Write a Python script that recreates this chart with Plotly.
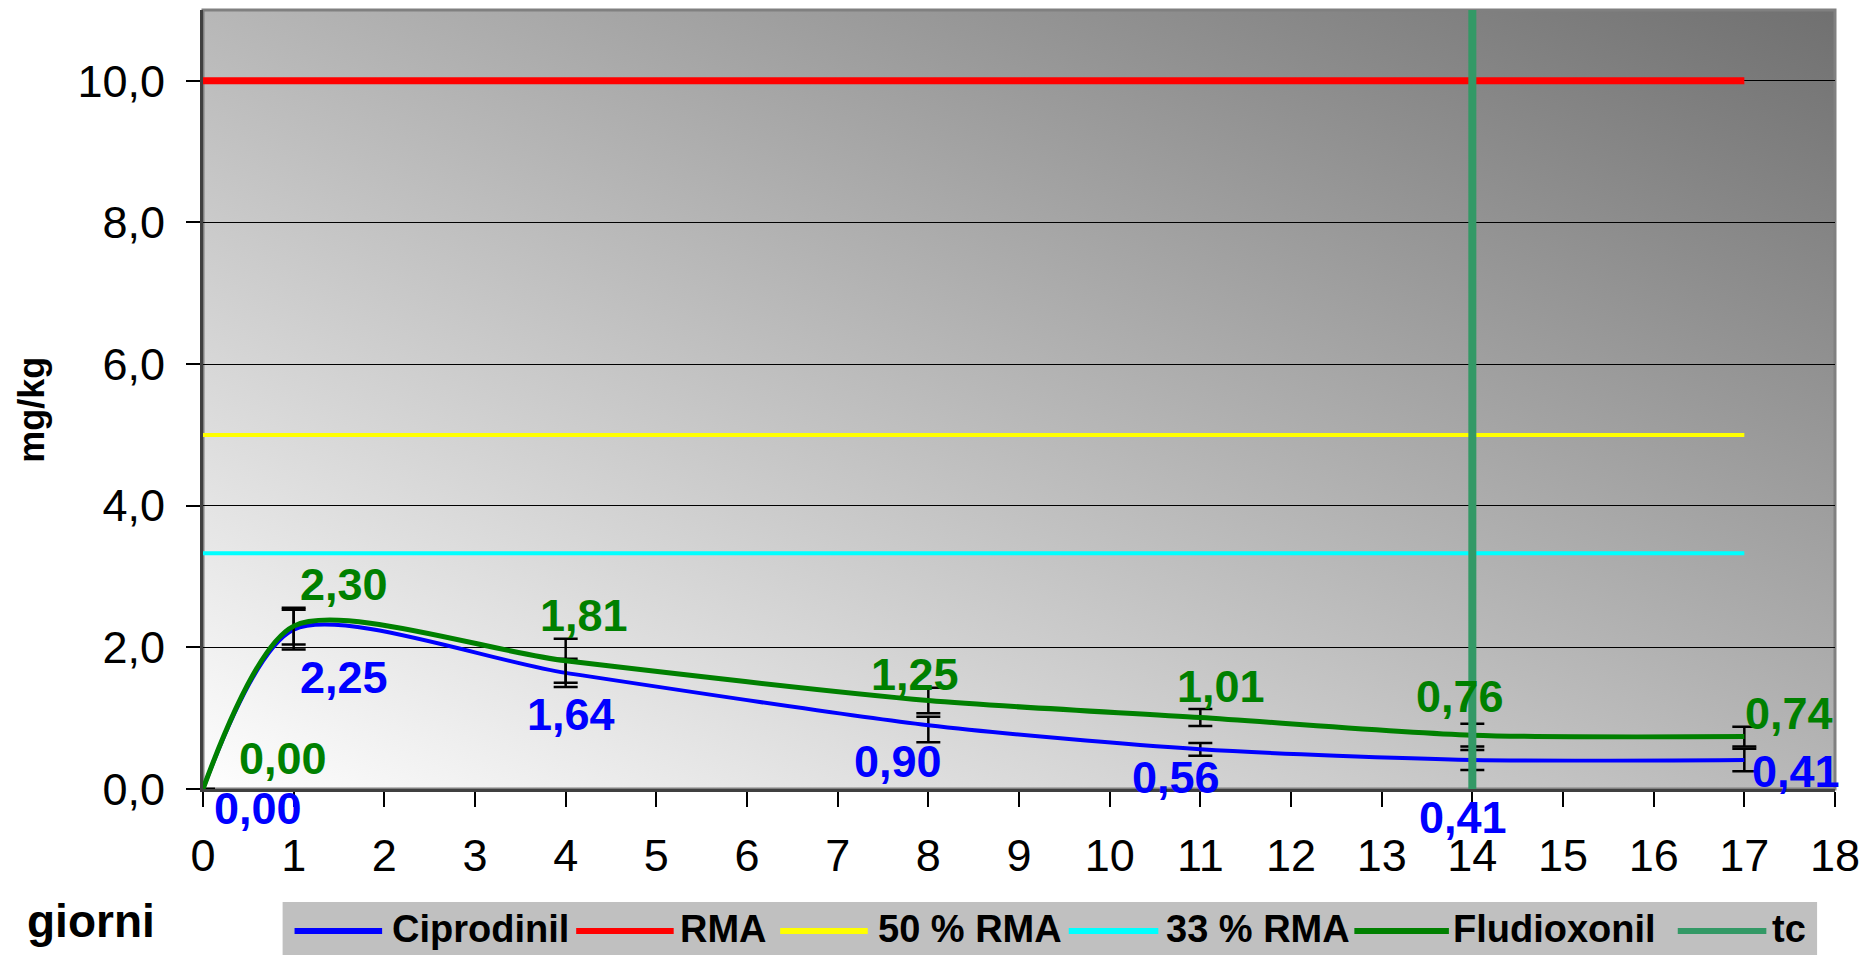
import base64
import plotly.graph_objects as go

# ── Data ─────────────────────────────────────────────────────
giorni = [0, 1, 4, 8, 11, 14, 17]
ciprodinil = [0.00, 2.25, 1.64, 0.90, 0.56, 0.41, 0.41]
fludioxonil = [0.00, 2.30, 1.81, 1.25, 1.01, 0.76, 0.74]
cip_err_plus = [0, 0.28, 0.20, 0.12, 0.09, 0.14, 0.16]
cip_err_minus = [0, 0.28, 0.20, 0.24, 0.09, 0.14, 0.16]
flu_err_plus = [0, 0.26, 0.31, 0.18, 0.12, 0.16, 0.14]
flu_err_minus = [0, 0.26, 0.31, 0.18, 0.12, 0.16, 0.14]

rma_x = [0, 17]
rma = 10.0
rma_50 = 5.0
rma_33 = 3.33
tc_day = 14
tc_y = [0, 11]

series_names = ["Ciprodinil", "RMA", "50 % RMA", "33 % RMA", "Fludioxonil", "tc"]
series_colors = ["#0000FF", "#FF0000", "#FFFF00", "#00FFFF", "#008000", "#339966"]

# ── Geometry (pixels) ────────────────────────────────────────
W, H = 1870, 955
L, R, T, B = 203, 1843, 10, 789
FONT = "Arial, Liberation Sans, sans-serif"


def px(x):
    return (x - L) / (R - L)


def py(y):
    return (B - y) / (B - T)


def label(v):
    return f"{v:.2f}".replace(".", ",")


# ── Gradient background (bottom-left light → top-right dark) ─
svg = ('<svg xmlns="http://www.w3.org/2000/svg" width="100" height="100" '
       'viewBox="0 0 100 100" preserveAspectRatio="none"><defs>'
       '<linearGradient id="g" x1="0" y1="1" x2="1" y2="0">'
       '<stop offset="0" stop-color="#fefefe"/>'
       '<stop offset="1" stop-color="#707070"/></linearGradient></defs>'
       '<rect width="100" height="100" fill="url(#g)"/></svg>')
bg_src = "data:image/svg+xml;base64," + base64.b64encode(svg.encode()).decode()

fig = go.Figure()

fig.add_trace(go.Scatter(
    x=giorni, y=ciprodinil, mode="lines", name="Ciprodinil",
    line=dict(color=series_colors[0], width=4, shape="spline", smoothing=0.75),
    error_y=dict(type="data", symmetric=False, array=cip_err_plus,
                 arrayminus=cip_err_minus, color="black", thickness=2.5, width=12),
))
for val, col, w in [(rma, series_colors[1], 7), (rma_50, series_colors[2], 4),
                    (rma_33, series_colors[3], 4)]:
    fig.add_trace(go.Scatter(x=rma_x, y=[val, val], mode="lines",
                             line=dict(color=col, width=w)))
fig.add_trace(go.Scatter(
    x=giorni, y=fludioxonil, mode="lines", name="Fludioxonil",
    line=dict(color=series_colors[4], width=5, shape="spline", smoothing=0.75),
    error_y=dict(type="data", symmetric=False, array=flu_err_plus,
                 arrayminus=flu_err_minus, color="black", thickness=2.5, width=12),
))
fig.add_trace(go.Scatter(x=[tc_day, tc_day], y=tc_y, mode="lines",
                         line=dict(color=series_colors[5], width=8)))

# ── Data labels ──────────────────────────────────────────────
flu_shift = [(80, 31), (50, 42), (18, 45), (-13, 26), (21, 31), (-12, 39), (45, 23)]
cip_shift = [(55, -19), (50, -48), (5, -42), (-30, -36), (-24, -28), (-9, -58), (52, -12)]
annotations = []
for x, v, (dx, dy) in zip(giorni, fludioxonil, flu_shift):
    annotations.append(dict(x=x, y=v, text=label(v), showarrow=False,
                            xshift=dx, yshift=dy, xanchor="center", yanchor="middle",
                            font=dict(family=FONT, size=45, color="#008000", weight="bold")))
for x, v, (dx, dy) in zip(giorni, ciprodinil, cip_shift):
    annotations.append(dict(x=x, y=v, text=label(v), showarrow=False,
                            xshift=dx, yshift=dy, xanchor="center", yanchor="middle",
                            font=dict(family=FONT, size=45, color="#0000FF", weight="bold")))

annotations.append(dict(xref="paper", yref="paper", x=px(30), y=py(410),
                        xanchor="center", yanchor="middle",
                        text="<b>mg/kg</b>", textangle=-90, showarrow=False,
                        font=dict(family=FONT, size=36, color="black")))
annotations.append(dict(xref="paper", yref="paper", x=px(90), y=py(921),
                        xanchor="center", yanchor="middle",
                        text="<b>giorni</b>", showarrow=False,
                        font=dict(family=FONT, size=46, color="black")))

# ── Manual legend ────────────────────────────────────────────
shapes = [
    dict(type="rect", xref="paper", yref="paper", x0=0, x1=1, y0=0, y1=1,
         line=dict(color="#808080", width=3), layer="below"),
    dict(type="rect", xref="paper", yref="paper", x0=px(283), x1=px(1825),
         y0=py(955), y1=py(902), fillcolor="#C0C0C0", line=dict(width=0)),
]
leg_line = [(295, 383), (578, 676), (783, 871), (1073, 1163), (1360, 1455), (1685, 1774)]
leg_text = [391, 680, 879, 1169, 1457, 1778]
ly = 931
for name, col, (a, b), tx in zip(series_names, series_colors, leg_line, leg_text):
    shapes.append(dict(type="line", xref="paper", yref="paper", x0=px(a), x1=px(b),
                       y0=py(ly), y1=py(ly), line=dict(color=col, width=6)))
    annotations.append(dict(xref="paper", yref="paper", x=px(tx), y=py(ly - 2),
                            xanchor="left", yanchor="middle", text=f"<b>{name}</b>",
                            showarrow=False, font=dict(family=FONT, size=38, color="black")))

fig.update_layout(
    width=W, height=H,
    margin=dict(l=L, r=W - R, t=T, b=H - B),
    paper_bgcolor="white",
    plot_bgcolor="rgba(0,0,0,0)",
    separators=", ",
    showlegend=False,
    font=dict(family=FONT, size=45, color="black"),
    images=[dict(source=bg_src, xref="paper", yref="paper", x=0, y=1,
                 sizex=1, sizey=1, sizing="stretch", layer="below",
                 xanchor="left", yanchor="top")],
    xaxis=dict(range=[0, 18], dtick=1, tick0=0, showgrid=False, zeroline=False,
               showline=True, linecolor="#404040", linewidth=3,
               ticks="outside", ticklen=15, tickwidth=1.5, tickcolor="black",
               ticklabelstandoff=10, tickfont=dict(size=45)),
    yaxis=dict(range=[0, 11], dtick=2, tick0=0, tickformat=".1f",
               showgrid=True, gridcolor="black", gridwidth=1, zeroline=False,
               showline=True, linecolor="#404040", linewidth=3,
               ticks="outside", ticklen=14, tickwidth=1.5, tickcolor="black",
               ticklabelstandoff=12, tickfont=dict(size=45)),
    annotations=annotations,
    shapes=shapes,
)

fig.write_html("out.html", config={"displayModeBar": False},
               post_script="document.body.style.margin='0px';")
